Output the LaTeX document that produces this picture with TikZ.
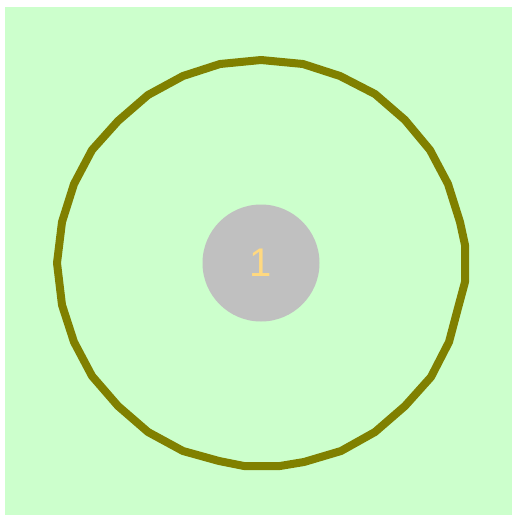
\documentclass[tikz,border=0pt]{standalone}
\usepackage{fontspec}
\setmainfont{Liberation Sans}
\definecolor{bggreen}{HTML}{CCFFCC}
\definecolor{ringolive}{HTML}{808000}
\definecolor{discgray}{HTML}{C0C0C0}
\definecolor{numorange}{HTML}{FFD980}
\begin{document}
\begin{tikzpicture}[x=1pt,y=-1pt,
  ring/.style={draw=ringolive,line width=8pt,line join=round},
  disc/.style={circle,fill=discgray,minimum size=117pt,inner sep=0pt,text=numorange,font=\fontsize{40}{40}\selectfont}]
\useasboundingbox (0,0) rectangle (512,515);
\fill[white] (0,0) rectangle (512,515);
\fill[bggreen] (5,7) rectangle (512,515);
\draw[ring] (220,64) -- (261,60) -- (303,64) -- (340,76) -- (375,94) -- (405,120) -- (430,150) -- (448,184) -- (460,222) -- (465,245) -- (465,282) -- (458,308) -- (449,342) -- (431,377) -- (405,406) -- (375,432) -- (341,451) -- (304,462) -- (280,466) -- (244,466) -- (219,461) -- (183,451) -- (148,432) -- (118,406) -- (92,376) -- (74,342) -- (62,305) -- (57,263) -- (62,222) -- (74,184) -- (92,150) -- (118,121) -- (148,95) -- (183,76) -- cycle;
\node[disc] (n1) at (261,263) {1};
\end{tikzpicture}
\end{document}
